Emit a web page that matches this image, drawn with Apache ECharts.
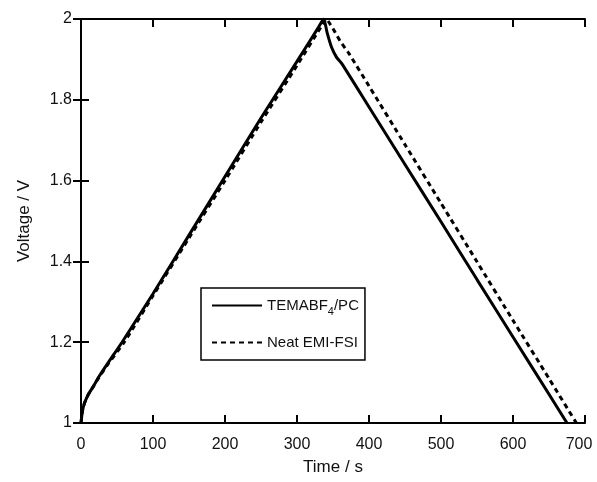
<!DOCTYPE html>
<html>
<head>
<meta charset="utf-8">
<script src="https://cdn.jsdelivr.net/npm/echarts@6/dist/echarts.min.js"></script>
<style>html,body{margin:0;padding:0;background:#fff}#c{width:597px;height:482px}</style>
</head>
<body>
<div id="c"></div>
<script>
// Time (s) and voltage (V)
const temaTime = [0, 2, 5, 10, 17, 25, 38, 57, 100, 150, 200, 250, 300, 330, 337, 342, 348, 355, 362, 400, 450, 500, 550, 600, 650, 675];
const temaVolt = [1.0, 1.03, 1.05, 1.07, 1.09, 1.115, 1.15, 1.2, 1.32, 1.465, 1.61, 1.755, 1.895, 1.98, 2.0, 1.965, 1.93, 1.905, 1.89, 1.782, 1.64, 1.498, 1.355, 1.213, 1.071, 1.0];
const emiTime = [0, 2, 5, 10, 17, 25, 38, 60, 100, 150, 200, 250, 300, 335, 341, 345, 352, 360, 372, 400, 450, 500, 550, 600, 650, 688];
const emiVolt = [1.0, 1.03, 1.05, 1.07, 1.09, 1.113, 1.147, 1.2, 1.315, 1.458, 1.6, 1.745, 1.885, 1.985, 2.0, 1.99, 1.97, 1.945, 1.915, 1.834, 1.689, 1.544, 1.399, 1.254, 1.11, 1.0];
const xTicks = [0, 100, 200, 300, 400, 500, 600, 700];
const yTicks = [1, 1.2, 1.4, 1.6, 1.8, 2];

const toPairs = (xs, ys) => xs.map((x, i) => [x, ys[i]]);
const font = 'Liberation Sans, Arial, sans-serif';
const axisCommon = {
  axisLine: { show: true, lineStyle: { color: '#000', width: 2 } },
  axisTick: { show: true, inside: true, length: 8, lineStyle: { color: '#000', width: 2 } },
  splitLine: { show: false }
};
const chart = echarts.init(document.getElementById('c'));
chart.setOption({
  animation: false,
  grid: { left: 81, top: 19, right: 12, bottom: 59, containLabel: false, outerBoundsMode: 'none' },
  legend: {
    left: 201, top: 288, orient: 'vertical',
    itemWidth: 50, itemHeight: 10, itemGap: 18,
    padding: [10, 6, 10, 10],
    borderColor: '#000', borderWidth: 1.5,
    backgroundColor: '#fff',
    itemStyle: { opacity: 0 },
    data: ['TEMABF4/PC', 'Neat EMI-FSI'],
    formatter: function (name) {
      return name === 'TEMABF4/PC' ? '{a|TEMABF}{s|4}{a|/PC}' : '{a|' + name + '}';
    },
    textStyle: {
      color: '#111', fontFamily: font, fontSize: 15,
      rich: {
        a: { fontFamily: font, fontSize: 15, color: '#111' },
        s: { fontFamily: font, fontSize: 11, color: '#111', verticalAlign: 'bottom', padding: [12, 0, 0, 0] }
      }
    }
  },
  xAxis: [{
    type: 'value', min: 0, max: 700, interval: 100,
    name: 'Time / s', nameLocation: 'middle', nameGap: 36,
    nameTextStyle: { fontFamily: font, fontSize: 17, color: '#111' },
    axisLabel: {
      fontFamily: font, fontSize: 16, color: '#111', margin: 14,
      formatter: v => xTicks.includes(v) ? (v === 700 ? '{r|700}' : String(v)) : '',
      rich: { r: { fontFamily: font, fontSize: 16, color: '#111', padding: [0, 12, 0, 0] } }
    },
    ...axisCommon
  }, {
    type: 'value', min: 0, max: 700, interval: 100, position: 'top',
    axisLabel: { show: false }, ...axisCommon
  }],
  yAxis: [{
    type: 'value', min: 1, max: 2, interval: 0.2,
    name: 'Voltage / V', nameLocation: 'middle', nameGap: 48, nameRotate: 90,
    nameTextStyle: { fontFamily: font, fontSize: 17, color: '#111' },
    axisLabel: { fontFamily: font, fontSize: 16, color: '#111', margin: 9,
      formatter: v => { const t = yTicks.find(k => Math.abs(k - v) < 1e-6); return t === undefined ? '' : String(t); } },
    ...axisCommon
  }, {
    type: 'value', min: 1, max: 2, interval: 0.2, position: 'right',
    axisLabel: { show: false }, ...axisCommon
  }],
  series: [{
    name: 'TEMABF4/PC', type: 'line', data: toPairs(temaTime, temaVolt),
    showSymbol: false, symbol: 'none', smooth: 0.2,
    lineStyle: { color: '#000', width: 3, type: 'solid' },
    itemStyle: { color: '#000' }
  }, {
    name: 'Neat EMI-FSI', type: 'line', data: toPairs(emiTime, emiVolt),
    showSymbol: false, symbol: 'none', smooth: 0.2,
    lineStyle: { color: '#000', width: 3, type: [5, 4] },
    itemStyle: { color: '#000' }
  }]
});
</script>
</body>
</html>
